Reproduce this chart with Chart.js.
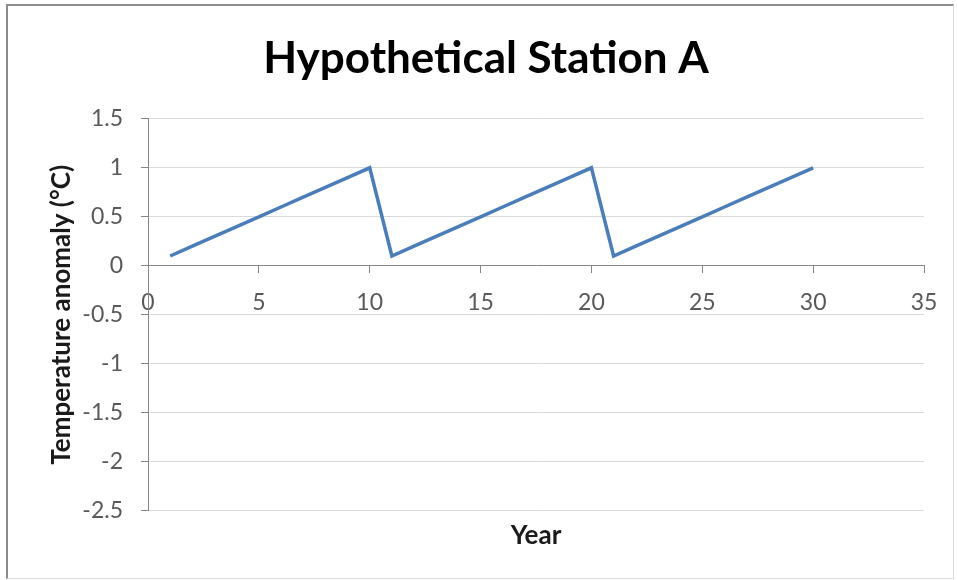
<!DOCTYPE html>
<html>
<head>
<meta charset="utf-8">
<script src="https://cdn.jsdelivr.net/npm/chart.js@4/dist/chart.umd.min.js"></script>
<style>
    html, body { margin: 0; padding: 0; background: #fff; }
    #wrap { position: absolute; left: 0; top: 0; width: 957px; height: 580px; }
    #frame {
        position: absolute; left: 6px; top: 4px; width: 945px; height: 572px;
        border-top: 2px solid #8c8c8c; border-left: 2px solid #8c8c8c;
        border-right: 1px solid #dcdcdc; border-bottom: 1px solid #dcdcdc;
        pointer-events: none;
    }
</style>
</head>
<body>
<div id="wrap"><canvas id="stationChart"></canvas></div>
<div id="frame"></div>
<script>
// Valores (anomalia anual, dente de serra)
const years = [1, 2, 3, 4, 5, 6, 7, 8, 9, 10, 11, 12, 13, 14, 15, 16, 17, 18, 19, 20, 21, 22, 23, 24, 25, 26, 27, 28, 29, 30];
const anomaly = [0.1, 0.2, 0.3, 0.4, 0.5, 0.6, 0.7, 0.8, 0.9, 1.0, 0.1, 0.2, 0.3, 0.4, 0.5, 0.6, 0.7, 0.8, 0.9, 1.0, 0.1, 0.2, 0.3, 0.4, 0.5, 0.6, 0.7, 0.8, 0.9, 1.0];
const xTicks = [0, 5, 10, 15, 20, 25, 30, 35];
const yTicks = [-2.5, -2, -1.5, -1, -0.5, 0, 0.5, 1, 1.5];

const FONT = 'Lato, "Liberation Sans", sans-serif';
const AXIS_GRAY = '#868686';

document.addEventListener('DOMContentLoaded', function () {
    const ctx = document.getElementById('stationChart').getContext('2d');
    new Chart(ctx, {
        type: 'scatter',
        data: {
            datasets: [{
                label: 'Station A',
                data: years.map((y, i) => ({ x: y, y: anomaly[i] })),
                showLine: true,
                borderColor: '#4a7ebb',
                backgroundColor: '#4a7ebb',
                borderWidth: 3.5,
                pointRadius: 0,
                tension: 0
            }]
        },
        options: {
            responsive: true,
            maintainAspectRatio: false,
            animation: false,
            layout: { padding: { top: 0, right: 33, bottom: 29, left: 48 } },
            plugins: {
                legend: { display: false },
                tooltip: { enabled: false },
                title: {
                    display: true,
                    text: 'Hypothetical Station A',
                    color: '#000',
                    font: { family: FONT, size: 44, weight: 'bold' },
                    padding: { top: 32, bottom: 34 }
                }
            },
            scales: {
                x: {
                    type: 'linear',
                    position: { y: 0 },
                    min: 0,
                    max: 35,
                    afterBuildTicks: s => { s.ticks = xTicks.map(v => ({ value: v })); },
                    ticks: {
                        color: '#595959',
                        font: { family: FONT, size: 23 },
                        padding: 16,
                        maxRotation: 0,
                        callback: v => String(v)
                    },
                    grid: { color: 'transparent', tickColor: AXIS_GRAY, tickLength: 7 },
                    border: { color: AXIS_GRAY }
                },
                // eixo só para o título "Year" embaixo da área do gráfico
                xTitle: {
                    type: 'linear',
                    axis: 'x',
                    position: 'bottom',
                    min: 0,
                    max: 35,
                    ticks: { display: false },
                    grid: { display: false },
                    border: { display: false },
                    title: {
                        display: true,
                        text: 'Year',
                        color: '#1a1a1a',
                        font: { family: FONT, size: 26, weight: 'bold' },
                        padding: { top: 1, bottom: 0 }
                    }
                },
                y: {
                    type: 'linear',
                    min: -2.5,
                    max: 1.5,
                    afterBuildTicks: s => { s.ticks = yTicks.map(v => ({ value: v })); },
                    afterFit: s => { s.width = 100; },
                    ticks: {
                        color: '#595959',
                        font: { family: FONT, size: 23 },
                        padding: 18,
                        callback: v => String(v)
                    },
                    grid: { color: '#d9d9d9', tickColor: AXIS_GRAY, tickLength: 7 },
                    border: { color: AXIS_GRAY },
                    title: {
                        display: true,
                        text: 'Temperature anomaly (°C)',
                        color: '#1a1a1a',
                        font: { family: FONT, size: 26, weight: 'bold' },
                        padding: { top: -2, bottom: 0 }
                    }
                }
            }
        }
    });
});
</script>
</body>
</html>
